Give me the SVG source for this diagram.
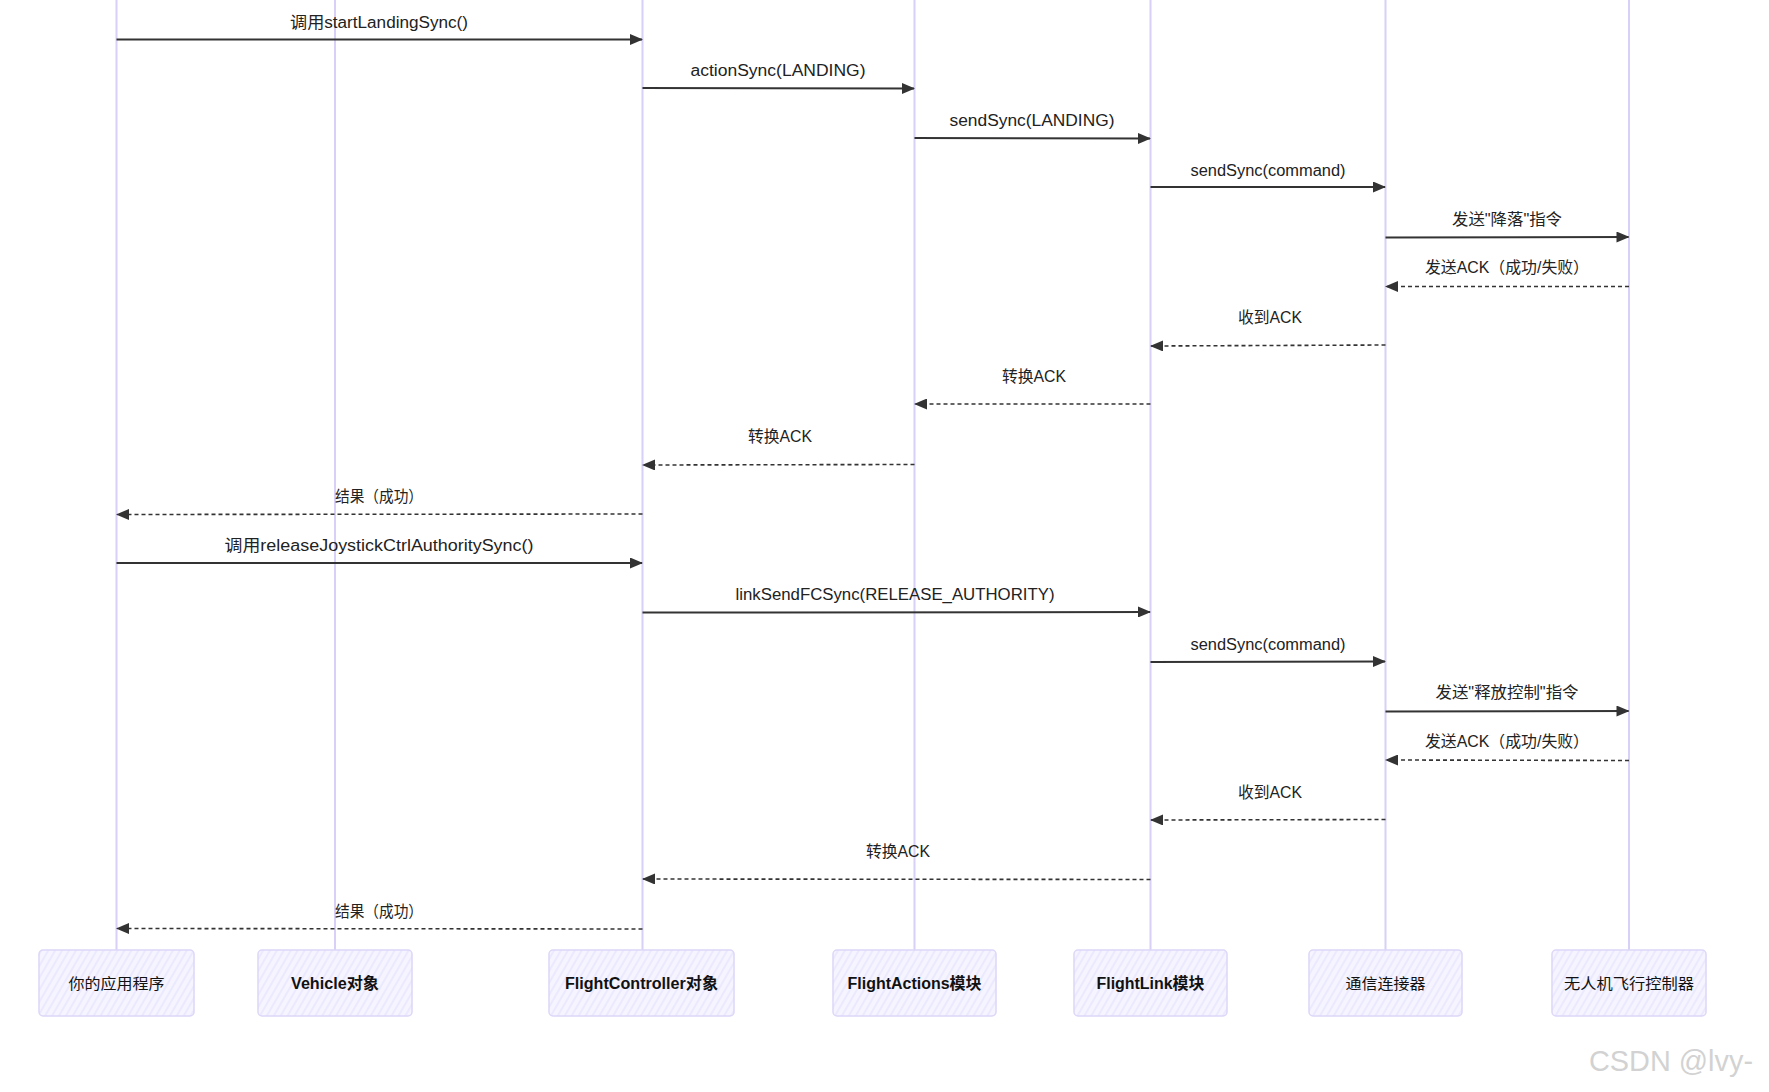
<svg xmlns="http://www.w3.org/2000/svg" width="1769" height="1092" viewBox="0 0 1769 1092">
  <style>
    .life { stroke: #d8d0f6; stroke-width: 2; fill: none; }
    .box { fill: url(#hatch); stroke: #ddd6f8; stroke-width: 1.5; }
    .blabel { font-family: "Liberation Sans", "Noto Sans CJK SC", sans-serif; font-size: 16px; font-weight: bold; fill: #111; text-anchor: middle; }
    .blabel-cjk { font-family: "Noto Sans CJK SC", sans-serif; font-size: 15px; font-weight: normal; fill: #111; text-anchor: middle; }
    .msg { stroke: #333; stroke-width: 2; fill: none; }
    .ret { stroke: #333; stroke-width: 1.6; fill: none; stroke-dasharray: 4 3; }
    .mlabel { font-family: "Liberation Sans", "Noto Sans CJK SC", sans-serif; font-size: 16px; fill: #222; text-anchor: middle; }
    .wm { font-family: "Liberation Sans", Arial, sans-serif; font-size: 30px; fill: #d2d2d2; }
  </style>
  <defs>
    <pattern id="hatch" patternUnits="userSpaceOnUse" width="6" height="6" patternTransform="rotate(30)">
      <rect width="6" height="6" fill="#f5f4ff"/>
      <line x1="1" y1="0" x2="1" y2="6" stroke="#e6e3fc" stroke-width="1.3"/>
    </pattern>
    <marker id="arrow" markerUnits="userSpaceOnUse" markerWidth="13" markerHeight="11" refX="12" refY="5.5" orient="auto">
      <path d="M0,0 L13,5.5 L0,11 Z" fill="#333"/>
    </marker>
  </defs>

  <rect width="1769" height="1092" fill="#ffffff"/>

  <g id="lifelines">
    <line class="life" x1="116.5" y1="0" x2="116.5" y2="950"/>
    <line class="life" x1="335" y1="0" x2="335" y2="950"/>
    <line class="life" x1="642.5" y1="0" x2="642.5" y2="950"/>
    <line class="life" x1="914.5" y1="0" x2="914.5" y2="950"/>
    <line class="life" x1="1150.5" y1="0" x2="1150.5" y2="950"/>
    <line class="life" x1="1385.5" y1="0" x2="1385.5" y2="950"/>
    <line class="life" x1="1629" y1="0" x2="1629" y2="950"/>
  </g>

  <g id="connectors">
    <line class="msg" x1="116.5" y1="39.5" x2="642" y2="39.5" marker-end="url(#arrow)"/>
    <text class="mlabel" x="379" y="28" textLength="178" lengthAdjust="spacingAndGlyphs">调用startLandingSync()</text>

    <line class="msg" x1="642.5" y1="88" x2="914" y2="88.5" marker-end="url(#arrow)"/>
    <text class="mlabel" x="778" y="76" textLength="175" lengthAdjust="spacingAndGlyphs">actionSync(LANDING)</text>

    <line class="msg" x1="914.5" y1="138" x2="1150" y2="138.5" marker-end="url(#arrow)"/>
    <text class="mlabel" x="1032" y="126" textLength="165" lengthAdjust="spacingAndGlyphs">sendSync(LANDING)</text>

    <line class="msg" x1="1150.5" y1="187" x2="1385" y2="187" marker-end="url(#arrow)"/>
    <text class="mlabel" x="1268" y="176" textLength="155" lengthAdjust="spacingAndGlyphs">sendSync(command)</text>

    <line class="msg" x1="1385.5" y1="237.5" x2="1628.5" y2="237" marker-end="url(#arrow)"/>
    <text class="mlabel" x="1507" y="225" textLength="110" lengthAdjust="spacingAndGlyphs">发送"降落"指令</text>

    <line class="ret" x1="1629" y1="286.5" x2="1386" y2="286.5" marker-end="url(#arrow)"/>
    <text class="mlabel" x="1507" y="273" textLength="164" lengthAdjust="spacingAndGlyphs">发送ACK（成功/失败）</text>

    <line class="ret" x1="1385.5" y1="345" x2="1151" y2="346" marker-end="url(#arrow)"/>
    <text class="mlabel" x="1270" y="323" textLength="64" lengthAdjust="spacingAndGlyphs">收到ACK</text>

    <line class="ret" x1="1150.5" y1="404" x2="915" y2="404" marker-end="url(#arrow)"/>
    <text class="mlabel" x="1034" y="382" textLength="64" lengthAdjust="spacingAndGlyphs">转换ACK</text>

    <line class="ret" x1="914.5" y1="464.5" x2="643" y2="465" marker-end="url(#arrow)"/>
    <text class="mlabel" x="780" y="442" textLength="64" lengthAdjust="spacingAndGlyphs">转换ACK</text>

    <line class="ret" x1="642.5" y1="514" x2="117" y2="514.5" marker-end="url(#arrow)"/>
    <text class="mlabel" x="379" y="502" textLength="88" lengthAdjust="spacingAndGlyphs">结果（成功）</text>

    <line class="msg" x1="116.5" y1="563" x2="642" y2="563" marker-end="url(#arrow)"/>
    <text class="mlabel" x="379" y="551" textLength="309" lengthAdjust="spacingAndGlyphs">调用releaseJoystickCtrlAuthoritySync()</text>

    <line class="msg" x1="642.5" y1="612.5" x2="1150" y2="612" marker-end="url(#arrow)"/>
    <text class="mlabel" x="895" y="600" textLength="319" lengthAdjust="spacingAndGlyphs">linkSendFCSync(RELEASE_AUTHORITY)</text>

    <line class="msg" x1="1150.5" y1="662" x2="1385" y2="661.5" marker-end="url(#arrow)"/>
    <text class="mlabel" x="1268" y="650" textLength="155" lengthAdjust="spacingAndGlyphs">sendSync(command)</text>

    <line class="msg" x1="1385.5" y1="711.5" x2="1628.5" y2="711" marker-end="url(#arrow)"/>
    <text class="mlabel" x="1507" y="698" textLength="143" lengthAdjust="spacingAndGlyphs">发送"释放控制"指令</text>

    <line class="ret" x1="1629" y1="760.5" x2="1386" y2="760" marker-end="url(#arrow)"/>
    <text class="mlabel" x="1507" y="747" textLength="164" lengthAdjust="spacingAndGlyphs">发送ACK（成功/失败）</text>

    <line class="ret" x1="1385.5" y1="819.5" x2="1151" y2="820" marker-end="url(#arrow)"/>
    <text class="mlabel" x="1270" y="798" textLength="64" lengthAdjust="spacingAndGlyphs">收到ACK</text>

    <line class="ret" x1="1150.5" y1="879.5" x2="643" y2="879" marker-end="url(#arrow)"/>
    <text class="mlabel" x="898" y="857" textLength="64" lengthAdjust="spacingAndGlyphs">转换ACK</text>

    <line class="ret" x1="642.5" y1="929" x2="117" y2="928.5" marker-end="url(#arrow)"/>
    <text class="mlabel" x="379" y="917" textLength="88" lengthAdjust="spacingAndGlyphs">结果（成功）</text>
  </g>

  <g id="node-app">
    <rect class="box" x="39" y="950" width="155" height="66" rx="4"/>
    <text class="blabel-cjk" x="116.5" y="989" textLength="96" lengthAdjust="spacingAndGlyphs">你的应用程序</text>
  </g>
  <g id="node-vehicle">
    <rect class="box" x="258" y="950" width="154" height="66" rx="4"/>
    <text class="blabel" x="335" y="989" textLength="88" lengthAdjust="spacingAndGlyphs">Vehicle对象</text>
  </g>
  <g id="node-flightcontroller">
    <rect class="box" x="549" y="950" width="185" height="66" rx="4"/>
    <text class="blabel" x="641.5" y="989" textLength="153" lengthAdjust="spacingAndGlyphs">FlightController对象</text>
  </g>
  <g id="node-flightactions">
    <rect class="box" x="833" y="950" width="163" height="66" rx="4"/>
    <text class="blabel" x="914.5" y="989" textLength="134" lengthAdjust="spacingAndGlyphs">FlightActions模块</text>
  </g>
  <g id="node-flightlink">
    <rect class="box" x="1074" y="950" width="153" height="66" rx="4"/>
    <text class="blabel" x="1150.5" y="989" textLength="108" lengthAdjust="spacingAndGlyphs">FlightLink模块</text>
  </g>
  <g id="node-connector">
    <rect class="box" x="1309" y="950" width="153" height="66" rx="4"/>
    <text class="blabel-cjk" x="1385.5" y="989" textLength="80" lengthAdjust="spacingAndGlyphs">通信连接器</text>
  </g>
  <g id="node-fc">
    <rect class="box" x="1552" y="950" width="154" height="66" rx="4"/>
    <text class="blabel-cjk" x="1629" y="989" textLength="130" lengthAdjust="spacingAndGlyphs">无人机飞行控制器</text>
  </g>

  <text class="wm" x="1589" y="1071" textLength="164" lengthAdjust="spacingAndGlyphs">CSDN @lvy-</text>
</svg>
